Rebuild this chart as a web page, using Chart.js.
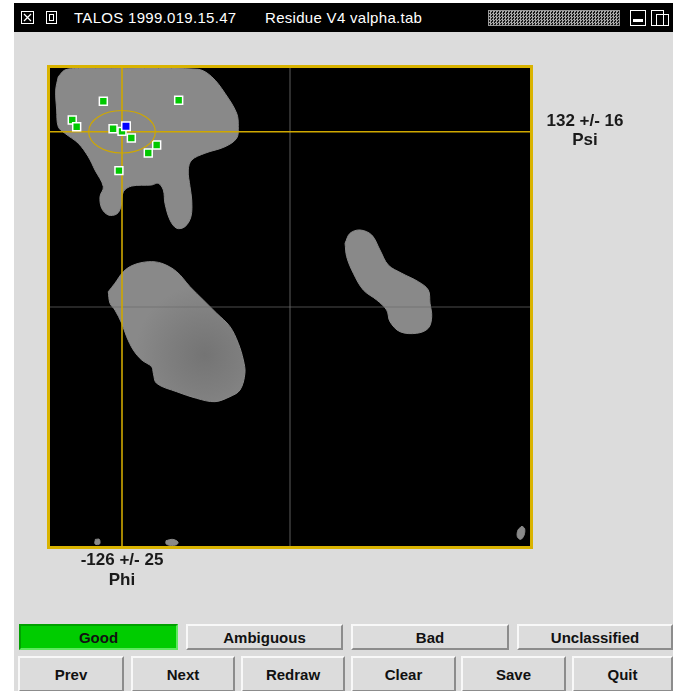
<!DOCTYPE html>
<html>
<head>
<meta charset="utf-8">
<script src="https://cdn.jsdelivr.net/npm/chart.js@4.4.1/dist/chart.umd.min.js"></script>
<style>
  html, body { margin: 0; padding: 0; background: #ffffff; }
  body { width: 673px; height: 691px; position: relative; overflow: hidden;
         font-family: "Liberation Sans", Arial, sans-serif; }
  #win { position: absolute; left: 14px; top: 4px; right: 0; bottom: 0; background: #dcdcdc; }
  #titlebar { position: absolute; left: 14px; top: 3px; right: 0; height: 29px; background: #000; }
  .ttext { position: absolute; top: 10px; color: #fff; font: 15px "Liberation Sans", Arial, sans-serif;
           line-height: 15px; white-space: pre; letter-spacing: 0.3px; }
  .ico { position: absolute; }
  #pattern { position: absolute; left: 488px; top: 10px; width: 132px; height: 16px; box-sizing: border-box;
             border: 1px solid #9a9a9a;
             background: repeating-conic-gradient(#a8a8a8 0 25%, #1a1a1a 0 50%) 0 0 / 3px 3px; }
  .btn { position: absolute; box-sizing: border-box; background: #dcdcdc;
         border-top: 2px solid #f8f8f8; border-left: 2px solid #f8f8f8;
         border-bottom: 2px solid #8c8c8c; border-right: 2px solid #8c8c8c;
         font: bold 15px "Liberation Sans", Arial, sans-serif; color: #111;
         display: flex; align-items: center; justify-content: center; }
  .btn.on { background: #00cc00; border-top-color: #00a000; border-left-color: #00a000;
            border-bottom-color: #5ee85e; border-right-color: #5ee85e; }
  #chart { position: absolute; left: 0; top: 0; z-index: 2; pointer-events: none; }
</style>
</head>
<body>
<div id="win"></div>
<div id="titlebar"></div>
<svg class="ico" style="left:21px;top:11px" width="13" height="13" viewBox="0 0 13 13">
  <rect x="0.5" y="0.5" width="12" height="12" fill="none" stroke="#fff"/>
  <path d="M3 3 L10 10 M10 3 L3 10" stroke="#fff" stroke-width="1.3"/>
</svg>
<svg class="ico" style="left:46px;top:11px" width="11" height="13" viewBox="0 0 11 13">
  <rect x="0.5" y="0.5" width="10" height="12" fill="none" stroke="#fff"/>
  <rect x="3.5" y="3.5" width="4" height="6" fill="none" stroke="#fff"/>
</svg>
<div class="ttext" style="left:74px">TALOS 1999.019.15.47</div>
<div class="ttext" style="left:265px">Residue V4 valpha.tab</div>
<div id="pattern"></div>
<svg class="ico" style="left:630px;top:10px" width="16" height="16" viewBox="0 0 16 16">
  <rect x="0.5" y="0.5" width="15" height="15" fill="none" stroke="#fff"/>
  <rect x="3" y="9" width="10" height="3" fill="#fff"/>
</svg>
<svg class="ico" style="left:651px;top:10px" width="18" height="16" viewBox="0 0 18 16">
  <rect x="0.5" y="0.5" width="12" height="15" fill="none" stroke="#fff"/>
  <rect x="5.5" y="4.5" width="12" height="11" fill="none" stroke="#fff"/>
</svg>

<div id="buttons"></div>

<canvas id="chart" width="673" height="691"></canvas>

<script>
// Prediction for the residue: mean and standard deviation of phi and psi (degrees)
const angleNames = ['Phi', 'Psi'];
const predMean = [-126, 132];
const predSd = [25, 16];

// Database matches (phi, psi) shown as green squares
const matchPhi = [-140, -83.5, -163.3, -160, -132.7, -126, -119, -100, -106.3, -128.3];
const matchPsi = [154.9, 155.7, 140.8, 135.8, 134.3, 132.3, 127.3, 122, 116, 102.7];

// Residue's own (phi, psi), shown in blue
const queryPhi = [-123];
const queryPsi = [136.1];

// Allowed regions of the Ramachandran map, as [phi, psi] outlines
const betaRegion = [
  [-173.8, 173.4], [-168.8, 178.5], [-158.8, 179.6], [-108.8, 179.6], [-68.8, 179], [-58.7, 173.4],
  [-48.8, 161], [-40, 145.9], [-38.8, 135.8], [-40, 127.1], [-48.8, 120.7], [-63.8, 115.8],
  [-73.7, 110.7], [-76.3, 103.2], [-75, 90.6], [-73.7, 80.6], [-74.3, 68], [-78.8, 60.5],
  [-85, 59.3], [-90, 65.5], [-93.8, 78.1], [-95, 88.1], [-98.8, 93.2], [-103.7, 91.9],
  [-118.7, 91.1], [-125, 86.8], [-126.8, 75.5], [-130, 70], [-136.3, 69.3], [-141.2, 74.3],
  [-142.5, 83.1], [-140, 90.6], [-146.3, 103.2], [-151.3, 113.2], [-158.8, 123.3],
  [-168.8, 130.8], [-173.8, 135.8], [-175, 148.4], [-175.7, 163.4], [-173.8, 173.4]
];
const alphaRegion = [
  [-136.3, 11.5], [-131.3, 17.9], [-125, 26.6], [-117.5, 31.6], [-106.3, 34.1], [-96.2, 32.9],
  [-85, 26.6], [-75, 15.3], [-65, 5.3], [-55, -4.7], [-45, -14.8], [-38.8, -27.3], [-35, -39.9],
  [-33.8, -49.9], [-37.5, -62.5], [-45, -67.5], [-56.3, -71.3], [-70, -68.8], [-85, -63.8],
  [-100, -57.5], [-102.5, -49.9], [-103.7, -45], [-111.2, -39.9], [-117.5, -32.4],
  [-122.5, -22.4], [-126.2, -12.3], [-131.3, -2.3], [-135, 2.8], [-136.3, 11.5]
];
// densest part of the alpha region (darker shading centre)
const alphaCore = [-64, -36];
const leftAlphaRegion = [
  [41.3, 48], [45, 55.5], [52.5, 58], [61.3, 54.2], [67.5, 42.9], [73.7, 31.6], [83.8, 25.4],
  [96.2, 19.1], [103.7, 12.8], [105, 2.8], [106.3, -7.3], [103.7, -16], [95, -19.8],
  [82.5, -18.6], [75, -11.1], [72.5, -2.3], [65, 5.3], [55, 12.8], [47.5, 25.4], [42.5, 37.9], [41.3, 48]
];
const speckA = [[-146, -175], [-143, -175], [-142.8, -178.5], [-146.2, -178.5], [-146, -175]];
const speckB = [[-93, -176], [-88, -175], [-84, -177], [-85, -179], [-90, -179.5], [-93, -178.3], [-93, -176]];
const speckC = [[174, -165], [176, -167], [175.5, -172], [173, -175], [170.5, -173], [171, -168], [174, -165]];

const xy = (arr) => arr.map(([x, y]) => ({ x, y }));
const GOLD = '#cfa800';
const REGION_GREY = '#898989';

const region = (label, pts, fillColor) => ({
  type: 'line', label, data: xy(pts), showLine: true, fill: 'shape',
  backgroundColor: fillColor || REGION_GREY, borderColor: REGION_GREY, borderWidth: 1,
  tension: 0.35, pointRadius: 0, order: 6
});
const rule = (label, pts, color, width, order) => ({
  type: 'line', label, data: xy(pts), showLine: true, fill: false,
  borderColor: color, borderWidth: width, pointRadius: 0, tension: 0, order
});

// radial shading of the alpha region, darker towards its core
function alphaShade(context) {
  const chart = context.chart;
  const { scales } = chart;
  if (!chart.chartArea || !scales.x) return REGION_GREY;
  const cx = scales.x.getPixelForValue(alphaCore[0]);
  const cy = scales.y.getPixelForValue(alphaCore[1]);
  const g = chart.ctx.createRadialGradient(cx, cy, 0, cx, cy, 70);
  g.addColorStop(0, '#747474');
  g.addColorStop(0.5, '#7e7e7e');
  g.addColorStop(1, REGION_GREY);
  return g;
}

// Black plotting field, gold frame, prediction ellipse and the mean +/- sd captions
const mapDecor = {
  id: 'mapDecor',
  beforeDraw(chart) {
    const { ctx, chartArea: a } = chart;
    ctx.save();
    ctx.fillStyle = '#000';
    ctx.fillRect(a.left, a.top, a.right - a.left, a.bottom - a.top);
    ctx.restore();
  },
  afterDatasetsDraw(chart) {
    const { ctx, chartArea: a, scales } = chart;
    const xs = scales.x, ys = scales.y;
    ctx.save();
    // ellipse of one standard deviation around the predicted mean
    const cx = xs.getPixelForValue(predMean[0]);
    const cy = ys.getPixelForValue(predMean[1]);
    const rx = Math.abs(xs.getPixelForValue(predMean[0] + predSd[0]) - cx);
    const ry = Math.abs(ys.getPixelForValue(predMean[1] + predSd[1]) - cy);
    ctx.strokeStyle = GOLD;
    ctx.lineWidth = 1.2;
    ctx.beginPath();
    ctx.ellipse(cx, cy, rx, ry, 0, 0, Math.PI * 2);
    ctx.stroke();
    // frame
    ctx.strokeStyle = '#d9b300';
    ctx.lineWidth = 3;
    ctx.strokeRect(a.left - 1.5, a.top - 1.5, a.right - a.left + 3, a.bottom - a.top + 3);
    ctx.restore();
  },
  afterDraw(chart) {
    const { ctx, chartArea: a, scales } = chart;
    ctx.save();
    ctx.fillStyle = '#1a1a1a';
    ctx.font = 'bold 17px "Liberation Sans", Arial, sans-serif';
    ctx.textAlign = 'center';
    ctx.textBaseline = 'middle';
    const px = scales.x.getPixelForValue(predMean[0]);
    ctx.fillText(`${predMean[0]} +/- ${predSd[0]}`, px, a.bottom + 14);
    ctx.fillText(angleNames[0], px, a.bottom + 34);
    const py = scales.y.getPixelForValue(predMean[1]);
    const lx = a.right + 55;
    ctx.fillText(`${predMean[1]} +/- ${predSd[1]}`, lx, py - 10);
    ctx.fillText(angleNames[1], lx, py + 9);
    ctx.restore();
  }
};

new Chart(document.getElementById('chart'), {
  type: 'scatter',
  data: {
    datasets: [
      { label: 'Residue', data: queryPhi.map((x, i) => ({ x, y: queryPsi[i] })),
        pointStyle: 'rect', pointRadius: 6, backgroundColor: '#0000ff',
        borderColor: '#ffffff', borderWidth: 1.5, order: 0 },
      { label: 'Matches', data: matchPhi.map((x, i) => ({ x, y: matchPsi[i] })),
        pointStyle: 'rect', pointRadius: 5.6, backgroundColor: '#00c800',
        borderColor: '#ffffff', borderWidth: 1.5, order: 1 },
      rule('Phi mean', [[predMean[0], -180], [predMean[0], 180]], GOLD, 1.6, 2),
      rule('Psi mean', [[-180, predMean[1]], [180, predMean[1]]], GOLD, 1.6, 2),
      rule('phi = 0', [[0, -180], [0, 180]], 'rgba(110,110,110,0.7)', 1.2, 3),
      rule('psi = 0', [[-180, 0], [180, 0]], 'rgba(110,110,110,0.7)', 1.2, 3),
      region('beta', betaRegion),
      region('alpha', alphaRegion, alphaShade),
      region('left alpha', leftAlphaRegion),
      region('speck a', speckA),
      region('speck b', speckB),
      region('speck c', speckC)
    ]
  },
  options: {
    responsive: false,
    animation: false,
    events: [],
    layout: { padding: { left: 50, top: 68, right: 143, bottom: 145 } },
    scales: {
      x: { type: 'linear', min: -180, max: 180, display: false },
      y: { type: 'linear', min: -180, max: 180, display: false }
    },
    plugins: { legend: { display: false }, tooltip: { enabled: false } }
  },
  plugins: [mapDecor]
});

// Classification and navigation buttons
const classButtons = ['Good', 'Ambiguous', 'Bad', 'Unclassified'];
const classLeft = [19, 186, 351, 517];
const classRight = [178, 343, 509, 673];
const navButtons = ['Prev', 'Next', 'Redraw', 'Clear', 'Save', 'Quit'];
const navLeft = [18, 131, 241, 351, 461, 572];
const navRight = [124, 235, 345, 456, 566, 673];

const holder = document.getElementById('buttons');
function addButton(text, l, r, top, h, on) {
  const b = document.createElement('div');
  b.className = 'btn' + (on ? ' on' : '');
  b.style.left = l + 'px'; b.style.width = (r - l) + 'px';
  b.style.top = top + 'px'; b.style.height = h + 'px';
  b.textContent = text;
  holder.appendChild(b);
}
classButtons.forEach((t, i) => addButton(t, classLeft[i], classRight[i], 624, 26, i === 0));
navButtons.forEach((t, i) => addButton(t, navLeft[i], navRight[i], 656, 36, false));
</script>
</body>
</html>
